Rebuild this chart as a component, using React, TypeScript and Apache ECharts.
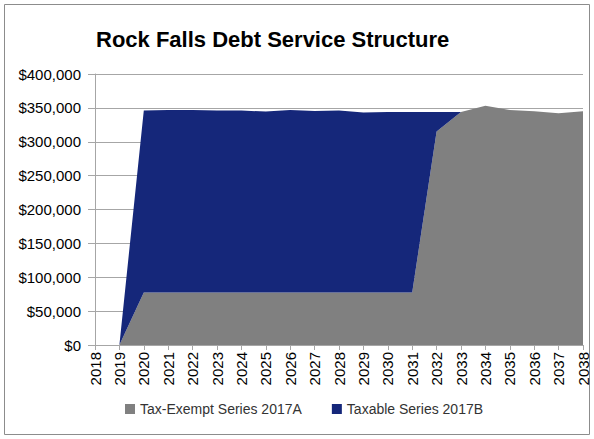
import React, { useEffect, useRef } from "react";
import * as echarts from "echarts";

const years = ["2018","2019","2020","2021","2022","2023","2024","2025","2026","2027","2028","2029","2030","2031","2032","2033","2034","2035","2036","2037","2038"];
const taxExempt = [0, 0, 77500, 77500, 77500, 77500, 77500, 77500, 77500, 77500, 77500, 77500, 77500, 77500, 315000, 344000, 353000, 347000, 345000, 342000, 345000];
const taxable = [0, 0, 268500, 269500, 269500, 268500, 268500, 267000, 269500, 268000, 268500, 265500, 266500, 266500, 29000, 0, 0, 0, 0, 0, 0];
const yTicks = [0, 50000, 100000, 150000, 200000, 250000, 300000, 350000, 400000];

const FONT = "'Liberation Sans', Arial, sans-serif";

export default function App() {
  const ref = useRef<HTMLDivElement>(null);
  useEffect(() => {
    if (!ref.current) return;
    const chart = echarts.init(ref.current, null, { renderer: "svg" });
    chart.setOption({
      animation: false,
      backgroundColor: "#ffffff",
      textStyle: { fontFamily: FONT },
      title: {
        text: "Rock Falls Debt Service Structure",
        left: 91,
        top: 23,
        textStyle: {
          fontFamily: FONT,
          fontWeight: "bold",
          fontSize: 22,
          color: "#000000",
        },
      },
      legend: {
        bottom: 18,
        left: 120,
        itemWidth: 10,
        itemHeight: 10,
        itemGap: 30,
        icon: "rect",
        textStyle: { fontFamily: FONT, fontSize: 14, color: "#333333" },
        data: ["Tax-Exempt Series 2017A", "Taxable Series 2017B"],
      },
      grid: { left: 95, right: 11, top: 74, bottom: 94, containLabel: false },
      xAxis: {
        type: "category",
        data: years,
        boundaryGap: false,
        axisLine: { show: true, lineStyle: { color: "#a6a6a6", width: 1 } },
        axisTick: { show: true, alignWithLabel: true, length: 5, lineStyle: { color: "#a6a6a6" } },
        axisLabel: { rotate: 90, interval: 0, fontSize: 15, color: "#000000", margin: 7, fontFamily: FONT },
        splitLine: { show: false },
      },
      yAxis: {
        type: "value",
        min: yTicks[0],
        max: yTicks[yTicks.length - 1],
        interval: 50000,
        axisLine: { show: true, lineStyle: { color: "#a6a6a6" } },
        axisTick: { show: true, length: 7, lineStyle: { color: "#a6a6a6" } },
        axisLabel: {
          fontSize: 15,
          color: "#000000",
          margin: 14,
          fontFamily: FONT,
          formatter: (v: number) => "$" + v.toLocaleString("en-US"),
        },
        splitLine: { show: true, lineStyle: { color: "#a6a6a6", width: 1 } },
      },
      graphic: [
        {
          type: "rect",
          shape: { x: 4.5, y: 4.5, width: 585, height: 430 },
          style: { fill: "none", stroke: "#8c8c8c", lineWidth: 1 },
          silent: true,
          z: -1,
        },
      ],
      series: [
        {
          name: "Tax-Exempt Series 2017A",
          type: "line",
          stack: "total",
          data: taxExempt,
          symbol: "none",
          lineStyle: { width: 0 },
          areaStyle: { color: "#808080", opacity: 1 },
          itemStyle: { color: "#808080" },
        },
        {
          name: "Taxable Series 2017B",
          type: "line",
          stack: "total",
          data: taxable,
          symbol: "none",
          lineStyle: { width: 0 },
          areaStyle: { color: "#15277a", opacity: 1 },
          itemStyle: { color: "#15277a" },
        },
      ],
    });
    return () => chart.dispose();
  }, []);
  return <div ref={ref} style={{ position: "fixed", left: 0, top: 0, width: 594, height: 439 }} />;
}
